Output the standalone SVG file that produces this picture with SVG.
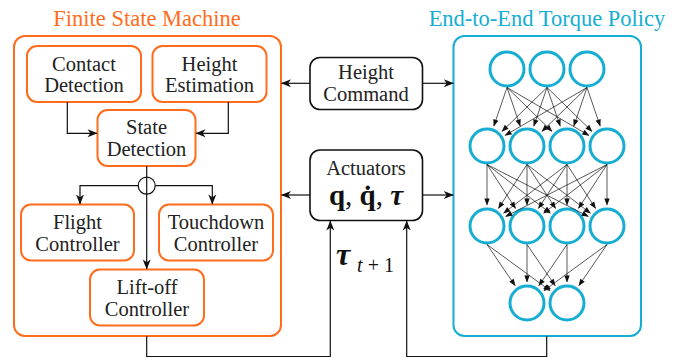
<svg xmlns="http://www.w3.org/2000/svg" width="678" height="358" viewBox="0 0 678 358" font-family="Liberation Serif, DejaVu Serif, serif">
<defs>
<style>
text{fill:#222}
.lbl{font-size:20.5px;text-anchor:middle}
.title{font-size:22.5px;text-anchor:middle}
.ob{fill:none;stroke:#FF6C1C;stroke-width:2}
.kb{fill:#fff;stroke:#111;stroke-width:1.6}
.cb{fill:none;stroke:#16ADD3;stroke-width:2}
.neu{fill:none;stroke:#16ADD3;stroke-width:3}
.c{fill:none;stroke:#111;stroke-width:1.2}
.e{fill:none;stroke:#111;stroke-width:0.7}
</style>
<marker id="arr" markerUnits="userSpaceOnUse" markerWidth="10" markerHeight="8" refX="9.5" refY="4" orient="auto" overflow="visible">
<path d="M0,0 L10,4 L0,8 L2.8,4 Z" fill="#111"/>
</marker>
<marker id="sarr" markerUnits="userSpaceOnUse" markerWidth="7" markerHeight="6" refX="6.5" refY="2.7" orient="auto" overflow="visible">
<path d="M0,0 L7,2.7 L0,5.4 Z" fill="#111"/>
</marker>
</defs>
<rect width="678" height="358" fill="#fff"/>

<g id="fsm">
<text class="title" x="147" y="26" style="fill:#FF6C1C">Finite State Machine</text>
<rect class="ob" x="14" y="36" width="267" height="300" rx="11"/>
</g>
<g id="policy">
<text class="title" x="547" y="26" style="fill:#16ADD3">End-to-End Torque Policy</text>
<rect class="cb" x="453.5" y="36" width="187.5" height="300" rx="11"/>
</g>

<g id="contact-detection">
<rect class="ob" x="27" y="46" width="114" height="56" rx="10"/>
<text class="lbl" x="84" y="70.5">Contact</text>
<text class="lbl" x="84" y="92">Detection</text>
</g>
<g id="height-estimation">
<rect class="ob" x="152.5" y="46" width="114" height="56" rx="10"/>
<text class="lbl" x="209.5" y="70.5">Height</text>
<text class="lbl" x="209.5" y="92">Estimation</text>
</g>
<g id="state-detection">
<rect class="ob" x="97.5" y="110" width="98" height="56" rx="10"/>
<text class="lbl" x="146.5" y="134">State</text>
<text class="lbl" x="146.5" y="156">Detection</text>
</g>
<g id="flight-controller">
<rect class="ob" x="21" y="204.5" width="113" height="56" rx="10"/>
<text class="lbl" x="77.5" y="229">Flight</text>
<text class="lbl" x="77.5" y="251">Controller</text>
</g>
<g id="touchdown-controller">
<rect class="ob" x="159" y="204.5" width="114" height="56" rx="10"/>
<text class="lbl" x="216" y="229">Touchdown</text>
<text class="lbl" x="216" y="251">Controller</text>
</g>
<g id="liftoff-controller">
<rect class="ob" x="90" y="269.5" width="114" height="56" rx="10"/>
<text class="lbl" x="147" y="294">Lift-off</text>
<text class="lbl" x="147" y="316">Controller</text>
</g>
<g id="junction">
<circle cx="146.7" cy="185.7" r="8.5" class="c"/>
</g>

<g id="height-command">
<rect class="kb" x="310" y="57.5" width="112.5" height="52" rx="10"/>
<text class="lbl" x="366" y="79">Height</text>
<text class="lbl" x="366" y="101">Command</text>
</g>
<g id="actuators">
<rect class="kb" x="310" y="150" width="112.5" height="70.5" rx="10"/>
<text class="lbl" x="366" y="175">Actuators</text>
<text x="366" y="205" style="font-size:29px;text-anchor:middle;fill:#111"><tspan font-weight="bold">q</tspan>, <tspan font-weight="bold">q̇</tspan>, <tspan font-weight="bold" font-style="italic">τ</tspan></text>
</g>

<g id="neurons">
<circle class="neu" cx="507" cy="69" r="17"/>
<circle class="neu" cx="547" cy="69" r="17"/>
<circle class="neu" cx="587" cy="69" r="17"/>
<circle class="neu" cx="487" cy="146" r="17"/>
<circle class="neu" cx="527" cy="146" r="17"/>
<circle class="neu" cx="567" cy="146" r="17"/>
<circle class="neu" cx="607" cy="146" r="17"/>
<circle class="neu" cx="487" cy="226" r="17"/>
<circle class="neu" cx="527" cy="226" r="17"/>
<circle class="neu" cx="567" cy="226" r="17"/>
<circle class="neu" cx="607" cy="226" r="17"/>
<circle class="neu" cx="527" cy="303" r="17"/>
<circle class="neu" cx="567" cy="303" r="17"/>
</g>

<g id="connectors">
<path class="c" d="M67.3,102 V133.3 H97" marker-end="url(#arr)"/>
<path class="c" d="M228.3,102 V133.3 H196" marker-end="url(#arr)"/>
<path class="c" d="M146.7,166 V269" marker-end="url(#arr)"/>
<path class="c" d="M138.2,185.7 H80 V204" marker-end="url(#arr)"/>
<path class="c" d="M155.2,185.7 H212.3 V204" marker-end="url(#arr)"/>
<path class="c" d="M310,83.3 H281.5" marker-end="url(#arr)"/>
<path class="c" d="M422.5,83.3 H453.3" marker-end="url(#arr)"/>
<path class="c" d="M310,195 H281.5" marker-end="url(#arr)"/>
<path class="c" d="M422.5,195 H453.3" marker-end="url(#arr)"/>
<path class="c" d="M146.7,336 V356.5 H330.3 V221" marker-end="url(#arr)"/>
<path class="c" d="M546.7,336 V356.5 H406.7 V221" marker-end="url(#arr)"/>
<text x="336" y="265" style="font-size:32px;font-weight:bold;font-style:italic;fill:#111">τ</text>
<text x="357" y="272" textLength="37" lengthAdjust="spacing" style="font-size:20px;fill:#111"><tspan font-style="italic">t</tspan>+1</text>

<g id="nn-edges">
<path class="e" d="M507,87.5 L493.79,126.13" marker-end="url(#sarr)"/>
<path class="e" d="M507,87.5 L520.21,126.13" marker-end="url(#sarr)"/>
<path class="e" d="M507,87.5 L551.96,131.34" marker-end="url(#sarr)"/>
<path class="e" d="M507,87.5 L588.87,135.4" marker-end="url(#sarr)"/>
<path class="e" d="M547,87.5 L502.04,131.34" marker-end="url(#sarr)"/>
<path class="e" d="M547,87.5 L533.79,126.13" marker-end="url(#sarr)"/>
<path class="e" d="M547,87.5 L560.21,126.13" marker-end="url(#sarr)"/>
<path class="e" d="M547,87.5 L591.96,131.34" marker-end="url(#sarr)"/>
<path class="e" d="M587,87.5 L505.13,135.4" marker-end="url(#sarr)"/>
<path class="e" d="M587,87.5 L542.04,131.34" marker-end="url(#sarr)"/>
<path class="e" d="M587,87.5 L573.79,126.13" marker-end="url(#sarr)"/>
<path class="e" d="M587,87.5 L600.21,126.13" marker-end="url(#sarr)"/>

<path class="e" d="M487,164.5 L487,205" marker-end="url(#sarr)"/>
<path class="e" d="M487,164.5 L515.55,208.4" marker-end="url(#sarr)"/>
<path class="e" d="M487,164.5 L550.35,213.2" marker-end="url(#sarr)"/>
<path class="e" d="M487,164.5 L588.31,216.4" marker-end="url(#sarr)"/>
<path class="e" d="M527,164.5 L498.45,208.4" marker-end="url(#sarr)"/>
<path class="e" d="M527,164.5 L527,205" marker-end="url(#sarr)"/>
<path class="e" d="M527,164.5 L555.55,208.4" marker-end="url(#sarr)"/>
<path class="e" d="M527,164.5 L590.35,213.2" marker-end="url(#sarr)"/>
<path class="e" d="M567,164.5 L503.65,213.2" marker-end="url(#sarr)"/>
<path class="e" d="M567,164.5 L538.45,208.4" marker-end="url(#sarr)"/>
<path class="e" d="M567,164.5 L567,205" marker-end="url(#sarr)"/>
<path class="e" d="M567,164.5 L595.55,208.4" marker-end="url(#sarr)"/>
<path class="e" d="M607,164.5 L505.69,216.4" marker-end="url(#sarr)"/>
<path class="e" d="M607,164.5 L543.65,213.2" marker-end="url(#sarr)"/>
<path class="e" d="M607,164.5 L578.45,208.4" marker-end="url(#sarr)"/>
<path class="e" d="M607,164.5 L607,205" marker-end="url(#sarr)"/>

<path class="e" d="M487,244.5 L515.15,285.67" marker-end="url(#sarr)"/>
<path class="e" d="M487,244.5 L550.05,290.6" marker-end="url(#sarr)"/>
<path class="e" d="M527,244.5 L527,282" marker-end="url(#sarr)"/>
<path class="e" d="M527,244.5 L555.15,285.67" marker-end="url(#sarr)"/>
<path class="e" d="M567,244.5 L538.85,285.67" marker-end="url(#sarr)"/>
<path class="e" d="M567,244.5 L567,282" marker-end="url(#sarr)"/>
<path class="e" d="M607,244.5 L543.95,290.6" marker-end="url(#sarr)"/>
<path class="e" d="M607,244.5 L578.85,285.67" marker-end="url(#sarr)"/>
</g>
</g>
</svg>
